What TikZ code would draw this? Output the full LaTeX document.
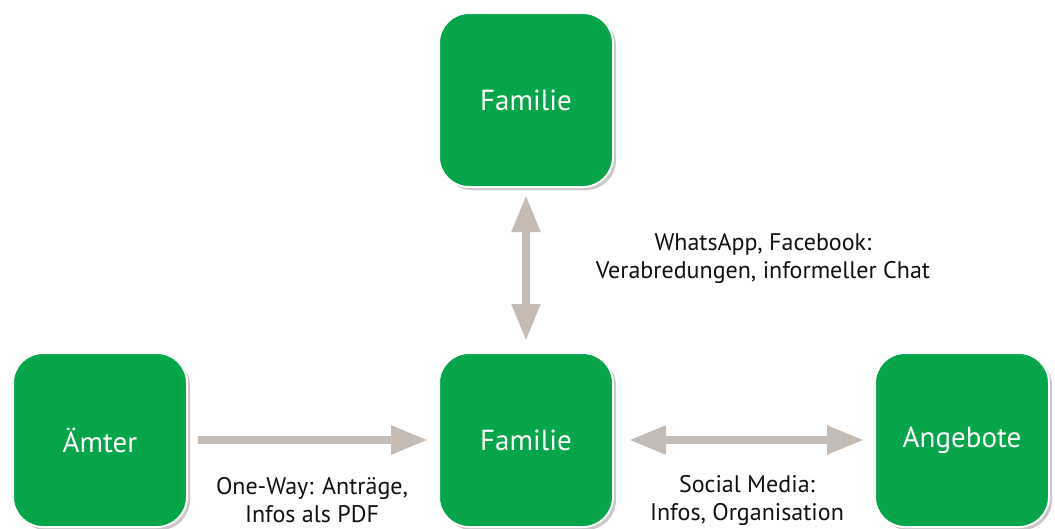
\documentclass[tikz,border=0pt]{standalone}
\usepackage{fontspec}
\setmainfont{PT Sans}
\usetikzlibrary{arrows.meta,shadows}
\definecolor{boxgreen}{HTML}{05A54A}
\definecolor{arrowgrey}{HTML}{C5BBB5}
\definecolor{labeltext}{HTML}{111111}
\tikzset{
  actor/.style={rectangle, rounded corners=30pt, fill=boxgreen, draw=white,
    line width=2pt, minimum width=174pt, minimum height=174pt, inner sep=0pt,
    text=white, font=\fontsize{29}{32}\selectfont,
    drop shadow={shadow xshift=3pt, shadow yshift=-3pt, opacity=0.3, fill=black!70}},
  flow/.style={draw=arrowgrey, line width=8pt,
    -{Triangle[length=37pt,width=27pt]}},
  twoway/.style={draw=arrowgrey, line width=8pt,
    {Triangle[length=37pt,width=27pt]}-{Triangle[length=37pt,width=27pt]}},
  note/.style={align=center, text=labeltext, inner sep=0pt,
    font=\fontsize{24}{28}\selectfont}
}
\begin{document}
\begin{tikzpicture}[x=1pt,y=1pt]
  \useasboundingbox[fill=white] (0,0) rectangle (1055,-528);
  % the four parties
  \node[actor] (top)    at (526,-100) {Familie};
  \node[actor] (center) at (526,-440) {Familie};
  \node[actor] (office) at (100,-440) {Ämter};
  \node[actor] (offers) at (962,-440) {Angebote};
  % connections between them
  \draw[twoway, shorten <=7pt, shorten >=11pt] (top.south) -- (center.north);
  \draw[flow, shorten <=10pt, shorten >=10pt] (office.east) -- (center.west);
  \draw[twoway, shorten <=15pt, shorten >=10pt] (center.east) -- (offers.west);
  % channel descriptions
  \node[note] (chat) at (763,-259) {WhatsApp, Facebook:\\Verabredungen, informeller Chat};
  \node[note] (oneway) at (312,-500) {One-Way: Anträge,\\Infos als PDF};
  \node[note] (social) at (747,-500) {Social Media:\\Infos, Organisation};
\end{tikzpicture}
\end{document}
